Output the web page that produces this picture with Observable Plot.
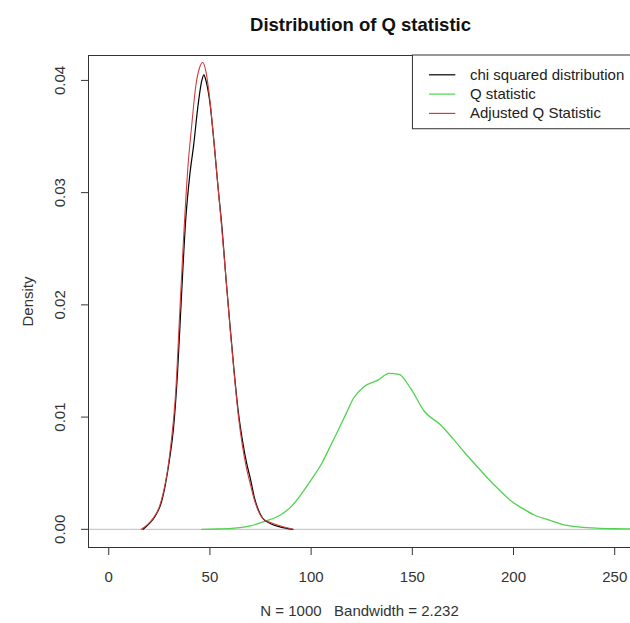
<!DOCTYPE html>
<html>
<head>
<meta charset="utf-8">
<script src="https://cdn.jsdelivr.net/npm/d3@7"></script>
<script src="https://cdn.jsdelivr.net/npm/@observablehq/plot@0.6"></script>
<style>
  html, body { margin: 0; padding: 0; background: #fff; }
  svg { display: block; }
</style>
</head>
<body>
<div id="chart"></div>
<script>
// ---- data ----
const seriesNames = ["chi squared distribution", "Q statistic", "Adjusted Q Statistic"];
const seriesColors = ["#000000", "#4fd34f", "#d43c3c"];

const chiX = [17, 20, 23, 26, 28, 30, 32, 34, 36, 38, 40, 42, 44, 46, 47, 48, 50, 52, 54, 56, 58, 60, 62, 64, 66, 68, 70, 72, 74, 76, 80, 85, 91];
const chiY = [0, 0.0005, 0.0012, 0.0024, 0.0040, 0.0062, 0.0090, 0.0140, 0.0210, 0.0275, 0.0315, 0.0343, 0.0376, 0.0400, 0.0405, 0.0400, 0.0380, 0.0345, 0.0305, 0.0268, 0.0222, 0.0180, 0.0140, 0.0105, 0.0080, 0.0060, 0.0045, 0.0028, 0.0017, 0.0010, 0.0005, 0.0002, 0];

const qX = [46, 54, 62, 70, 77, 85, 90, 95, 100, 105, 110, 113, 117, 121, 126, 133, 138.5, 143.5, 149, 156, 164, 170, 176, 182, 187, 193, 199, 205, 210, 218, 225, 233, 241, 250, 258, 262];
const qY = [0, 0.00003, 0.0001, 0.0003, 0.0007, 0.0013, 0.0020, 0.0031, 0.0044, 0.0058, 0.0076, 0.0087, 0.0102, 0.0117, 0.0127, 0.0133, 0.0139, 0.0138, 0.0126, 0.0105, 0.0093, 0.0081, 0.0068, 0.0056, 0.0046, 0.0035, 0.0025, 0.0018, 0.0013, 0.0008, 0.0004, 0.0002, 0.0001, 0.00005, 0.00003, 0.00002];

const adjX = [16, 19, 22, 25, 27, 29, 31, 33, 35, 37, 39, 41, 43, 45, 46.5, 48, 50, 52, 54, 56, 58, 60, 62, 64, 66, 68, 70, 72, 74, 76, 80, 85, 91];
const adjY = [0, 0.0004, 0.0010, 0.0020, 0.0033, 0.0052, 0.0080, 0.0120, 0.0190, 0.0260, 0.0320, 0.0360, 0.0395, 0.0412, 0.0416, 0.0408, 0.0382, 0.0345, 0.0305, 0.0265, 0.0222, 0.0178, 0.0138, 0.0102, 0.0075, 0.0055, 0.0040, 0.0026, 0.0016, 0.0010, 0.0006, 0.0003, 0];

const xTicks = [0, 50, 100, 150, 200, 250];
const yTicks = [0, 0.01, 0.02, 0.03, 0.04];
const yTickLabels = ["0.00", "0.01", "0.02", "0.03", "0.04"];

const titleText = "Distribution of Q statistic";
const subText = "N = 1000   Bandwidth = 2.232";
const yLabel = "Density";

// ---- build tables ----
const toRows = (xs, ys) => xs.map((x, i) => ({x, y: ys[i]}));
const chiRows = toRows(chiX, chiY);
const qRows = toRows(qX, qY);
const adjRows = toRows(adjX, adjY);

const xDomain = [-10, 257.8];
const yDomain = [-0.00162, 0.04222];
const font = "Liberation Sans, Arial, sans-serif";

const legendRows = seriesNames.map((name, i) => ({name, color: seriesColors[i], i}));

const plot = Plot.plot({
  width: 630,
  height: 623,
  marginLeft: 88,
  marginRight: 0,
  marginTop: 55,
  marginBottom: 76,
  style: {fontFamily: font, fontSize: "15px", background: "#fff", overflow: "visible"},
  x: {domain: xDomain, axis: null},
  y: {domain: yDomain, axis: null},
  marks: [
    // zero line
    Plot.ruleY([0], {stroke: "#bdbdbd", strokeWidth: 1}),
    // curves
    Plot.line(qRows, {x: "x", y: "y", stroke: seriesColors[1], strokeWidth: 1.3, clip: true, curve: "monotone-x"}),
    Plot.line(chiRows, {x: "x", y: "y", stroke: seriesColors[0], strokeWidth: 1.2, curve: "monotone-x"}),
    Plot.line(adjRows, {x: "x", y: "y", stroke: seriesColors[2], strokeWidth: 1.1, curve: "monotone-x"}),
    // box (top, left, bottom; right edge falls outside the picture)
    Plot.ruleY([yDomain[1]], {stroke: "#333", strokeWidth: 1}),
    Plot.ruleY([yDomain[0]], {stroke: "#333", strokeWidth: 1}),
    Plot.ruleX([xDomain[0]], {stroke: "#333", strokeWidth: 1}),
    // axes
    Plot.axisX({ticks: xTicks, tickSize: 8, tickPadding: 16, tickFormat: d => String(d), label: null, fontSize: 15, stroke: "#333", fill: "#333"}),
    Plot.axisY({ticks: yTicks, tickSize: 7, tickFormat: () => "", label: null, stroke: "#333"}),
    Plot.text(yTicks, {y: d => d, text: (d, i) => yTickLabels[i], frameAnchor: "left", dx: -28, rotate: -90, textAnchor: "middle", fontSize: 15, fill: "#333"}),
    // y label
    Plot.text([yLabel], {frameAnchor: "left", dx: -60, rotate: -90, textAnchor: "middle", fontSize: 15, fill: "#333"}),
    // title + subtitle
    Plot.text([titleText], {frameAnchor: "top", dy: -38, dx: 1, fontWeight: "bold", fontSize: 18.5, fill: "#111"}),
    Plot.text([subText], {frameAnchor: "bottom", dy: 68, fontSize: 15, fill: "#333"}),
    // legend box
    Plot.rect([0], {x1: 150.3, x2: 270, y1: 0.03565, y2: yDomain[1], stroke: "#333", fill: "white", strokeWidth: 1}),
    Plot.ruleY(legendRows, {y: d => 0.0405 - d.i * 0.00172, x1: 158.5, x2: 171.5, stroke: "color", strokeWidth: 1.2}),
    Plot.text(legendRows, {y: d => 0.0405 - d.i * 0.00172, x: 178.5, text: "name", textAnchor: "start", fontSize: 15, fill: "#222"})
  ]
});

document.getElementById("chart").appendChild(plot);
</script>
</body>
</html>
